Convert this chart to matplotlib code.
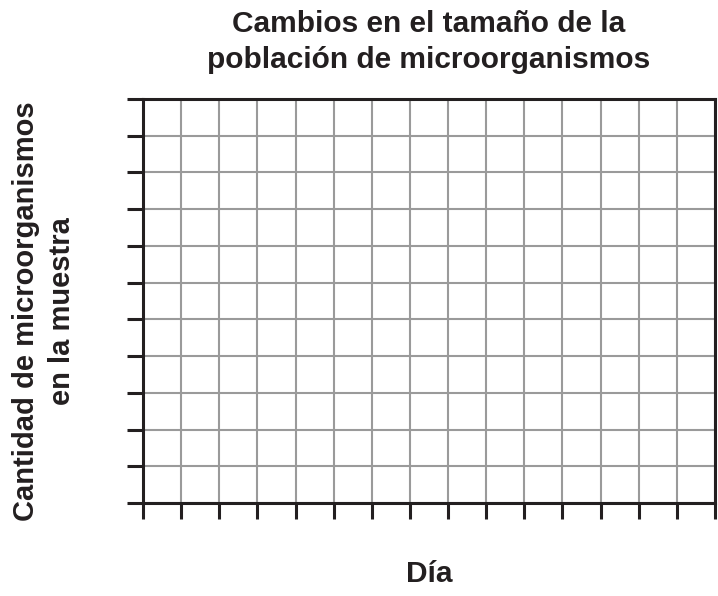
import matplotlib.pyplot as plt

# empty grid, no data plotted
dias = list(range(16))
cantidad = list(range(12))

titulo = "Cambios en el tamaño de la\npoblación de microorganismos"
etiqueta_x = "Día"
etiqueta_y = "Cantidad de microorganismos\nen la muestra"

ink = "#231f20"

plt.rcParams['font.family'] = ['Liberation Sans', 'DejaVu Sans']

fig = plt.figure(figsize=(7.18, 5.96), dpi=100)
ax = fig.add_axes([143/718, 1 - 503/596, (715 - 143)/718, (503 - 99)/596])

ax.set_xlim(dias[0], dias[-1])
ax.set_ylim(cantidad[0], cantidad[-1])
ax.set_xticks(dias)
ax.set_yticks(cantidad)
ax.set_xticklabels([])
ax.set_yticklabels([])
ax.tick_params(length=11.5, width=2.2, color=ink, direction='out')
ax.grid(True, color='#9a9a9a', linewidth=1.5)
ax.set_axisbelow(True)
for s in ax.spines.values():
    s.set_linewidth(2.2)
    s.set_color(ink)

ax.set_title(titulo, fontsize=21.5, fontweight='bold', color=ink, pad=22, linespacing=1.4)
ax.set_xlabel(etiqueta_x, fontsize=21.5, fontweight='bold', color=ink, labelpad=26)
ax.set_ylabel(etiqueta_y, fontsize=21, fontweight='bold', color=ink, labelpad=33, linespacing=1.4)
ax.yaxis.label.set_y(0.475)

fig.savefig("out.png", dpi=100)
